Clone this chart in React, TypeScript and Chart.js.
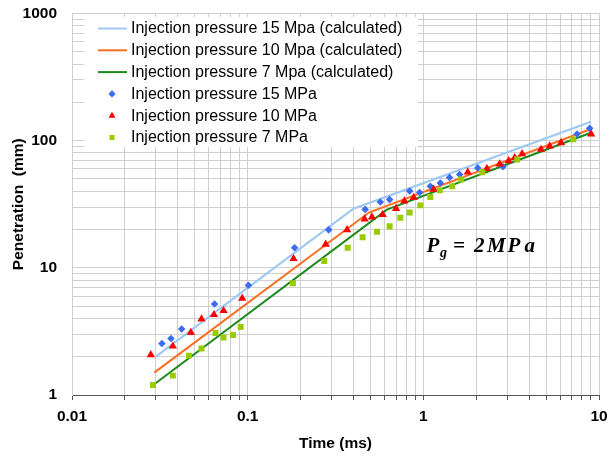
import React, { useEffect, useRef } from 'react';
import { Chart, registerables } from 'chart.js';

Chart.register(...registerables);

// ---- Data ----
const calc15X = [0.03, 0.4, 9];
const calc15Y = [2.0, 29.2, 141];
const calc10X = [0.0294, 0.49, 9];
const calc10Y = [1.5, 27.2, 123.5];
const calc7X = [0.029, 0.62, 9];
const calc7Y = [1.2, 28.7, 115.4];

const meas15X = [0.0325, 0.0366, 0.0421, 0.0648, 0.101, 0.185, 0.289, 0.467, 0.569, 0.643, 0.836, 0.953, 1.096, 1.25, 1.41, 1.61, 2.04, 2.84, 7.5, 8.85];
const meas15Y = [2.54, 2.78, 3.3, 5.2, 7.29, 14.4, 19.9, 28.8, 32.9, 34.4, 40.2, 39.1, 43.8, 46.5, 51.3, 54.2, 61.1, 62.3, 112.7, 125];

const meas10X = [0.0281, 0.0375, 0.0475, 0.0546, 0.0643, 0.0729, 0.0931, 0.1825, 0.278, 0.368, 0.463, 0.51, 0.587, 0.699, 0.78, 0.881, 1.145, 1.79, 2.3, 2.72, 3.06, 3.31, 3.65, 4.68, 5.24, 6.08, 9.02];
const meas10Y = [2.07, 2.42, 3.1, 3.96, 4.28, 4.6, 5.75, 11.8, 15.3, 19.9, 24.2, 25.1, 26.2, 29.2, 33.5, 35.7, 41.5, 56.5, 60.4, 65.4, 69.4, 73.3, 78.8, 85.3, 90.7, 96.3, 112.7];

const meas7X = [0.0289, 0.0375, 0.0463, 0.0546, 0.0656, 0.0729, 0.0825, 0.0912, 0.181, 0.273, 0.371, 0.451, 0.545, 0.643, 0.74, 0.836, 0.961, 1.096, 1.24, 1.46, 1.64, 2.16, 3.42, 7.12];
const meas7Y = [1.2, 1.42, 2.04, 2.32, 3.07, 2.83, 2.96, 3.42, 7.56, 11.3, 14.4, 17.4, 19.2, 21.2, 24.8, 27.2, 31.0, 36.1, 40.7, 43.8, 49.5, 56.5, 71.2, 102.4];

const seriesLabels = [
  'Injection pressure 15 Mpa (calculated)',
  'Injection pressure 10 Mpa (calculated)',
  'Injection pressure 7 Mpa (calculated)',
  'Injection pressure 15 MPa',
  'Injection pressure 10 MPa',
  'Injection pressure 7 MPa',
];

const xMajorValues = [0.01, 0.1, 1, 10];
const xMajorLabels = ['0.01', '0.1', '1', '10'];
const yMajorValues = [1, 10, 100, 1000];
const yMajorLabels = ['1', '10', '100', '1000'];
const minorMultipliers = [1, 2, 3, 4, 5, 6, 7, 8, 9];

const xTitle = 'Time (ms)';
const yTitle = 'Penetration  (mm)';
// annotation glyphs: main symbol, subscript, rest
const annotationGlyphs = ['P', 'g', '=', '2', 'M', 'P', 'a'];

// ---- Styles ----
const COLORS = {
  calc15: '#9ec8f4',
  calc10: '#ff6e1f',
  calc7: '#1b8a1b',
  meas15: '#3c6cf2',
  meas10: '#ff0000',
  meas7: '#99cc00',
  grid: '#cfcfcf',
  axis: '#555555',
  text: '#000000',
};

const FONT = 'Arial, "Liberation Sans", sans-serif';
const SERIF = '"Times New Roman", "Liberation Serif", serif';

function buildTicks(majors: number[]): number[] {
  const out: number[] = [];
  for (let i = 0; i < majors.length - 1; i++) {
    for (const m of minorMultipliers) out.push(parseFloat((majors[i] * m).toPrecision(6)));
  }
  out.push(majors[majors.length - 1]);
  return out;
}

function labelFor(value: number, vals: number[], labels: string[]): string {
  for (let i = 0; i < vals.length; i++) {
    if (Math.abs(value - vals[i]) / vals[i] < 1e-6) return labels[i];
  }
  return '';
}

function toPts(xs: number[], ys: number[]) {
  return xs.map((x, i) => ({ x, y: ys[i] }));
}

function drawMarker(ctx: CanvasRenderingContext2D, style: string, x: number, y: number, r: number, color: string) {
  ctx.fillStyle = color;
  ctx.beginPath();
  if (style === 'rectRot') {
    ctx.moveTo(x, y - r);
    ctx.lineTo(x + r, y);
    ctx.lineTo(x, y + r);
    ctx.lineTo(x - r, y);
  } else if (style === 'triangle') {
    ctx.moveTo(x, y - r);
    ctx.lineTo(x + r * 0.866, y + r * 0.5);
    ctx.lineTo(x - r * 0.866, y + r * 0.5);
  } else {
    ctx.rect(x - r * 0.707, y - r * 0.707, r * 1.414, r * 1.414);
  }
  ctx.closePath();
  ctx.fill();
}

const legendPlugin = {
  id: 'customLegend',
  afterDraw(chart: any) {
    const ctx: CanvasRenderingContext2D = chart.ctx;
    ctx.save();
    ctx.fillStyle = '#ffffff';
    ctx.fillRect(84, 17, 334, 130);
    const entries = [
      { kind: 'line', color: COLORS.calc15 },
      { kind: 'line', color: COLORS.calc10 },
      { kind: 'line', color: COLORS.calc7 },
      { kind: 'rectRot', color: COLORS.meas15 },
      { kind: 'triangle', color: COLORS.meas10 },
      { kind: 'rect', color: COLORS.meas7 },
    ];
    ctx.font = `16px ${FONT}`;
    ctx.textBaseline = 'middle';
    ctx.textAlign = 'left';
    entries.forEach((e, i) => {
      const y = 28.5 + i * 21.8;
      if (e.kind === 'line') {
        ctx.strokeStyle = e.color;
        ctx.lineWidth = 2;
        ctx.beginPath();
        ctx.moveTo(98, y);
        ctx.lineTo(127, y);
        ctx.stroke();
      } else {
        drawMarker(ctx, e.kind, 112, y, e.kind === 'triangle' ? 4 : 3.6, e.color);
      }
      ctx.fillStyle = COLORS.text;
      ctx.fillText(seriesLabels[i], 131, y + 0.5);
    });
    ctx.restore();
  },
};

const annotationPlugin = {
  id: 'pgAnnotation',
  afterDraw(chart: any) {
    const ctx: CanvasRenderingContext2D = chart.ctx;
    ctx.save();
    ctx.fillStyle = '#000';
    ctx.textBaseline = 'alphabetic';
    ctx.textAlign = 'left';
    const base = 252;
    const xs = [426.5, 440, 453, 474, 487, 507.5, 524.5];
    annotationGlyphs.forEach((g, i) => {
      if (i === 1) {
        ctx.font = `italic bold 14px ${SERIF}`;
        ctx.fillText(g, xs[i], base + 5);
      } else {
        ctx.font = `italic bold 21px ${SERIF}`;
        ctx.fillText(g, xs[i], base);
      }
    });
    ctx.restore();
  },
};

export default function App() {
  const ref = useRef<HTMLCanvasElement | null>(null);

  useEffect(() => {
    document.body.style.margin = '0';
    if (!ref.current) return;
    const xTicks = buildTicks(xMajorValues);
    const yTicks = buildTicks(yMajorValues);

    const chart = new Chart(ref.current, {
      type: 'scatter',
      data: {
        datasets: [
          {
            label: seriesLabels[0],
            data: toPts(calc15X, calc15Y),
            showLine: true,
            borderColor: COLORS.calc15,
            borderWidth: 2.2,
            pointRadius: 0,
            order: 3,
          },
          {
            label: seriesLabels[1],
            data: toPts(calc10X, calc10Y),
            showLine: true,
            borderColor: COLORS.calc10,
            borderWidth: 2,
            pointRadius: 0,
            order: 3,
          },
          {
            label: seriesLabels[2],
            data: toPts(calc7X, calc7Y),
            showLine: true,
            borderColor: COLORS.calc7,
            borderWidth: 2,
            pointRadius: 0,
            order: 3,
          },
          {
            label: seriesLabels[3],
            data: toPts(meas15X, meas15Y),
            pointStyle: 'rectRot',
            pointRadius: 3.8,
            backgroundColor: COLORS.meas15,
            borderColor: COLORS.meas15,
            borderWidth: 0,
            order: 2,
          },
          {
            label: seriesLabels[4],
            data: toPts(meas10X, meas10Y),
            pointStyle: 'triangle',
            pointRadius: 4.8,
            backgroundColor: COLORS.meas10,
            borderColor: COLORS.meas10,
            borderWidth: 0,
            order: 1,
          },
          {
            label: seriesLabels[5],
            data: toPts(meas7X, meas7Y),
            pointStyle: 'rect',
            pointRadius: 4.2,
            backgroundColor: COLORS.meas7,
            borderColor: COLORS.meas7,
            borderWidth: 0,
            order: 0,
          },
        ],
      },
      options: {
        responsive: false,
        animation: false,
        layout: { padding: { left: 0, right: 10, top: 13.5, bottom: 0 } },
        plugins: {
          legend: { display: false },
          tooltip: { enabled: false },
        },
        scales: {
          x: {
            type: 'logarithmic',
            position: 'bottom',
            min: 0.01,
            max: 10,
            afterBuildTicks: (scale: any) => {
              scale.ticks = xTicks.map((v) => ({ value: v }));
            },
            afterFit: (scale: any) => {
              scale.height = 64;
              scale.paddingLeft = 0;
              scale.paddingRight = 0;
            },
            ticks: {
              autoSkip: false,
              maxRotation: 0,
              padding: 7,
              color: COLORS.text,
              font: { family: FONT, size: 15.5, weight: 'bold' },
              callback: (value: any) => labelFor(Number(value), xMajorValues, xMajorLabels),
            },
            grid: {
              color: COLORS.grid,
              tickColor: COLORS.axis,
              tickLength: 5,
              lineWidth: 1,
            },
            border: { color: COLORS.axis, width: 1 },
            title: {
              display: true,
              text: xTitle,
              color: COLORS.text,
              font: { family: FONT, size: 15.5, weight: 'bold' },
              padding: { top: 0, bottom: 6 },
            },
          },
          y: {
            type: 'logarithmic',
            min: 1,
            max: 1000,
            afterBuildTicks: (scale: any) => {
              scale.ticks = yTicks.map((v) => ({ value: v }));
            },
            afterFit: (scale: any) => {
              scale.width = 72;
              scale.paddingTop = 0;
              scale.paddingBottom = 0;
            },
            ticks: {
              autoSkip: false,
              padding: 15,
              color: COLORS.text,
              font: { family: FONT, size: 15.5, weight: 'bold' },
              callback: (value: any) => labelFor(Number(value), yMajorValues, yMajorLabels),
            },
            grid: {
              color: COLORS.grid,
              drawTicks: false,
              lineWidth: 1,
            },
            border: { color: COLORS.grid, width: 1 },
            title: {
              display: true,
              text: yTitle,
              color: COLORS.text,
              font: { family: FONT, size: 15.5, weight: 'bold' },
              padding: { top: 9, bottom: 0 },
            },
          },
        },
      },
      plugins: [legendPlugin, annotationPlugin],
    });
    return () => chart.destroy();
  }, []);

  return (
    <div style={{ width: 609, height: 459 }}>
      <canvas ref={ref} width={609} height={459} />
    </div>
  );
}
